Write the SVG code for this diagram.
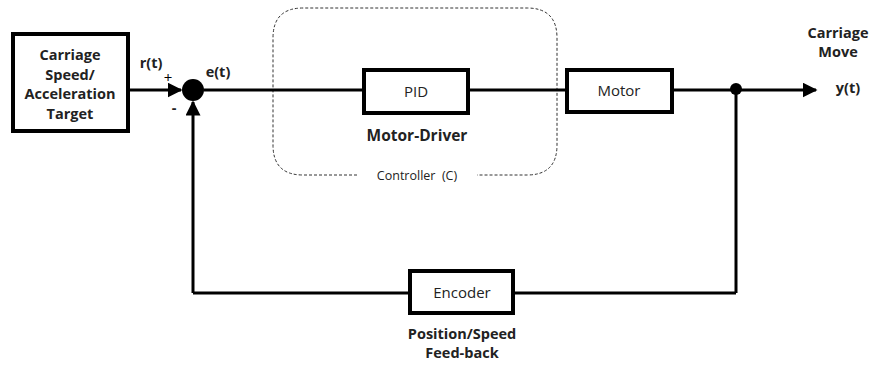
<svg xmlns="http://www.w3.org/2000/svg" width="879" height="365" viewBox="0 0 879 365">
<style>
.box{fill:#fff;stroke:#000;stroke-width:4}
.ln{fill:none;stroke:#000;stroke-width:3}
.b{font-family:"Open Sans","Noto Sans",sans-serif;font-weight:bold;font-size:14.5px;fill:#222;text-anchor:middle}
.r{font-family:"Open Sans","Noto Sans",sans-serif;font-size:15px;fill:#222;text-anchor:middle}
.s{font-family:"Open Sans","Noto Sans",sans-serif;font-size:12.5px;fill:#222;text-anchor:middle;white-space:pre}
</style>
<defs>
<marker id="ah" viewBox="0 0 10 10" refX="9" refY="5" markerWidth="5" markerHeight="5" orient="auto" markerUnits="strokeWidth">
<path d="M0,0 L10,5 L0,10 z" fill="#000"/>
</marker>
</defs>
<rect width="879" height="365" fill="#fff"/>
<g id="controller">
<path d="M357,175 H303 Q273,175 273,145 V38 Q273,8 303,8 H527 Q557,8 557,38 V145 Q557,175 527,175 H477" fill="none" stroke="#333" stroke-width="1" stroke-dasharray="3,2"/>
<text class="s" x="417" y="180" xml:space="preserve">Controller  (C)</text>
</g>
<g id="connectors">
<line class="ln" x1="128" y1="90" x2="181" y2="90" marker-end="url(#ah)"/>
<line class="ln" x1="193" y1="293" x2="193" y2="102" marker-end="url(#ah)"/>
<line class="ln" x1="193" y1="293" x2="410" y2="293"/>
<line class="ln" x1="513" y1="293" x2="736" y2="293"/>
<line class="ln" x1="736" y1="293" x2="736" y2="90"/>
<line class="ln" x1="204" y1="90" x2="364" y2="90"/>
<line class="ln" x1="468" y1="90" x2="567" y2="90"/>
<line class="ln" x1="672" y1="90" x2="816" y2="90" marker-end="url(#ah)"/>
</g>
<g id="target">
<rect class="box" x="13" y="34" width="115" height="97"/>
<text class="b" x="70" y="60">Carriage</text>
<text class="b" x="70" y="80">Speed/</text>
<text class="b" x="70" y="99">Acceleration</text>
<text class="b" x="70" y="119">Target</text>
</g>
<g id="sum">
<circle cx="193" cy="90" r="11" fill="#000"/>
<text class="b" x="151" y="68">r(t)</text>
<text class="r" x="168" y="83" style="fill:#000">+</text>
<text class="b" x="174" y="113">-</text>
<text class="b" x="218" y="77">e(t)</text>
</g>
<g id="pid">
<rect class="box" x="364" y="70" width="104" height="43"/>
<text class="r" x="416" y="97">PID</text>
<text class="b" x="417" y="141" style="font-size:15.5px">Motor-Driver</text>
</g>
<g id="motor">
<rect class="box" x="567" y="70" width="105" height="42"/>
<text class="r" x="619" y="96">Motor</text>
</g>
<g id="junction">
<circle cx="736" cy="89" r="6" fill="#000"/>
</g>
<g id="output">
<text class="b" x="838" y="38">Carriage</text>
<text class="b" x="838" y="57">Move</text>
<text class="b" x="848" y="93">y(t)</text>
</g>
<g id="encoder">
<rect class="box" x="410" y="271" width="103" height="42"/>
<text class="r" x="462" y="298">Encoder</text>
<text class="b" x="462" y="339">Position/Speed</text>
<text class="b" x="462" y="358">Feed-back</text>
</g>
</svg>
